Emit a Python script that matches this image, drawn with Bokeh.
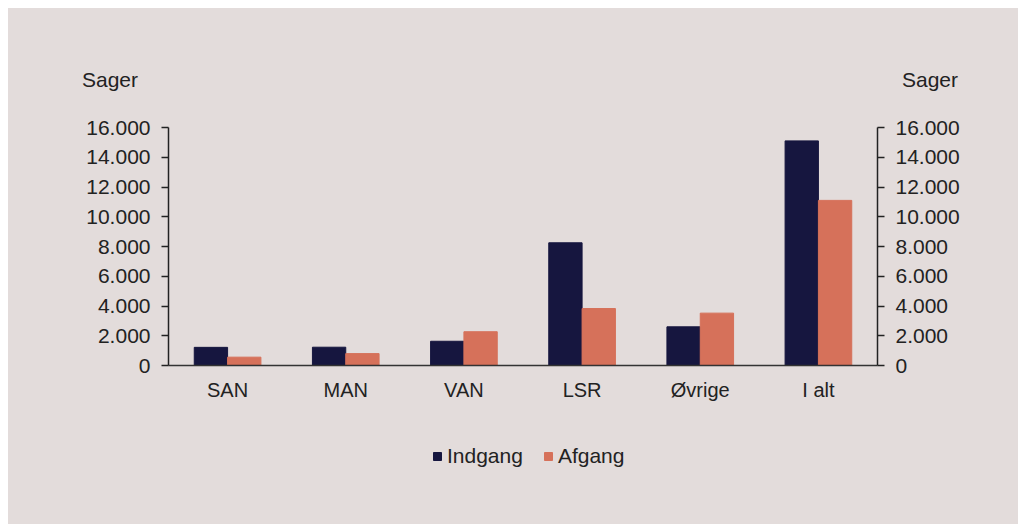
from bokeh.plotting import figure
from bokeh.models import ColumnDataSource, LinearAxis, Range1d, FactorRange, Legend, LegendItem, CustomJSTickFormatter, Div
from bokeh.layouts import column
from bokeh.transform import dodge
from bokeh.embed import file_html
from bokeh.resources import INLINE

categories = ["SAN", "MAN", "VAN", "LSR", "Øvrige", "I alt"]
indgang = [1220, 1230, 1630, 8250, 2600, 15100]
afgang = [560, 800, 2270, 3830, 3520, 11100]
y_ticks = [0, 2000, 4000, 6000, 8000, 10000, 12000, 14000, 16000]
series_names = ["Indgang", "Afgang"]
unit_label = "Sager"

BG = "#E3DCDB"
NAVY = "#16163F"
ORANGE = "#D6715A"
TXT = "#222222"
FONT = "Liberation Sans"
FS = "21px"
FS_CAT = "20px"

src = ColumnDataSource(dict(cat=categories, ind=indgang, afg=afgang))

# header with the two unit labels
span = "position:absolute;top:62px;line-height:20px;font-family:'Liberation Sans';font-size:21px;color:#222222;white-space:nowrap;"
header = Div(text=(f"<div style=\"position:relative;width:1010px;height:100px;\">"
                   f"<span style=\"{span}left:74px;\">{unit_label}</span>"
                   f"<span style=\"{span}left:894px;\">{unit_label}</span></div>"),
             width=1010, height=100, margin=0, styles={"background-color": BG})

# main chart
p = figure(width=1010, height=312, x_range=FactorRange(*categories, range_padding=0),
           y_range=Range1d(0, 16000), output_backend="svg", toolbar_location=None,
           min_border_left=160, min_border_right=141, min_border_top=19, min_border_bottom=55,
           margin=0)
p.background_fill_color = None
p.border_fill_color = BG
p.outline_line_color = None
p.xgrid.grid_line_color = None
p.ygrid.grid_line_color = None

p.vbar(x=dodge("cat", -0.141, range=p.x_range), top="ind", width=0.282, source=src,
       fill_color=NAVY, line_color=NAVY)
p.vbar(x=dodge("cat", 0.141, range=p.x_range), top="afg", width=0.282, source=src,
       fill_color=ORANGE, line_color=ORANGE)

fmt = CustomJSTickFormatter(code="return tick == 0 ? '0' : tick.toLocaleString('de-DE');")

def style_y(ax):
    ax.ticker = y_ticks
    ax.formatter = fmt
    ax.major_label_text_font = FONT
    ax.major_label_text_font_size = FS
    ax.major_label_text_color = TXT
    ax.axis_line_color = TXT
    ax.axis_line_width = 1.5
    ax.major_tick_line_color = TXT
    ax.major_tick_line_width = 1.5
    ax.major_tick_out = 7
    ax.major_tick_in = 0
    ax.minor_tick_line_color = None
    ax.major_label_standoff = 11

style_y(p.yaxis[0])
right = LinearAxis()
style_y(right)
p.add_layout(right, "right")

xa = p.xaxis[0]
xa.major_label_text_font = FONT
xa.major_label_text_font_size = FS_CAT
xa.major_label_text_color = TXT
xa.axis_line_color = "#333333"
xa.axis_line_width = 1.5
xa.major_tick_line_color = None
xa.minor_tick_line_color = None
xa.major_label_standoff = 7

# legend strip
pl = figure(width=1010, height=104, output_backend="svg", toolbar_location=None,
            x_range=Range1d(0, 1), y_range=Range1d(0, 1),
            x_axis_location=None, y_axis_location=None, min_border=0, margin=0)
pl.background_fill_color = None
pl.border_fill_color = BG
pl.outline_line_color = None
pl.grid.visible = False
g1 = pl.vbar(x=[-5], top=[-5], width=1, fill_color=NAVY, line_color=NAVY)
g2 = pl.vbar(x=[-5], top=[-5], width=1, fill_color=ORANGE, line_color=ORANGE)
legend = Legend(items=[LegendItem(label=series_names[0], renderers=[g1]),
                       LegendItem(label=series_names[1], renderers=[g2])],
                orientation="horizontal", location=(264, 56),
                background_fill_alpha=0, border_line_color=None,
                label_text_font=FONT, label_text_font_size=FS, label_text_color=TXT,
                glyph_width=10, glyph_height=10, label_standoff=5, spacing=20,
                padding=0, margin=0, label_height=20)
pl.add_layout(legend, "center")

layout = column(header, p, pl, margin=(8, 0, 0, 8), spacing=0,
                styles={"background-color": BG})

open("out.html", "w").write(file_html(layout, INLINE))
